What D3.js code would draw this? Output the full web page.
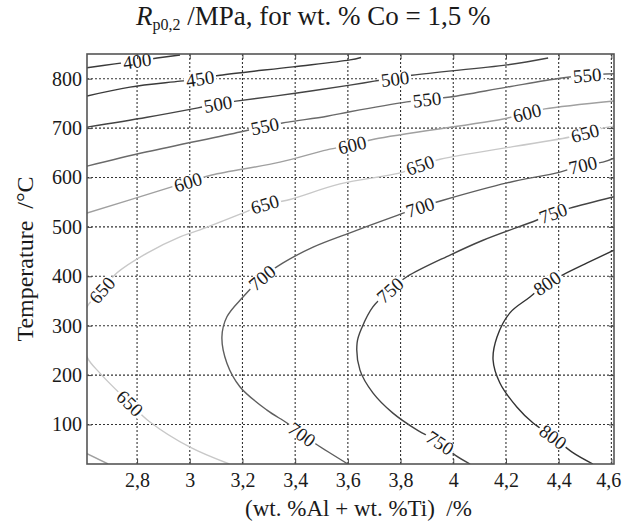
<!DOCTYPE html>
<html>
<head>
<meta charset="utf-8">
<script src="https://cdn.jsdelivr.net/npm/d3@7"></script>
<style>
  body { margin: 0; background: #fff; }
  svg text { font-family: "Liberation Serif", "Times New Roman", serif; fill: #1a1a1a; }
</style>
</head>
<body>
<script>
// contour levels of Rp0,2 (MPa)
var levels = [400, 450, 500, 550, 600, 650, 700, 750, 800];

// contour lines: [wt.% Al+Ti, temperature °C]
var c400 = [[[2.61,822],[2.716,830],[2.80,836],[2.876,842],[2.963,848]]];
var c450 = [[[2.61,765],[2.773,783],[2.963,795],[3.039,800],[3.115,807],[3.392,824],[3.608,838],[3.65,843]]];
var c500 = [[[2.61,702],[2.838,722],[3.031,741],[3.107,749],[3.183,755],[3.407,771],[3.608,787],[3.70,795],[3.843,807],[4.204,828],[4.36,842]]];
var c550 = [[[2.61,623],[2.838,652],[3.191,692],[3.285,704],[3.373,712],[3.521,724],[3.608,733],[3.824,753],[3.90,758],[3.988,763],[4.204,783],[4.405,801],[4.508,807],[4.61,810]]];
var c600 = [
  [[2.61,528],[2.895,575],[2.993,591],[3.084,605],[3.342,631],[3.521,656],[3.616,666],[3.703,678],[4.204,720],[4.28,731],[4.348,739],[4.61,755]],
  [[2.61,41],[2.69,20]]
];
var c650 = [[[4.61,704],[4.568,700],[4.50,690],[4.443,682],[3.950,637],[3.874,625],[3.809,611],[3.570,587],[3.369,554],[3.285,546],[3.202,528],[3.039,494],[2.963,480],[2.838,447],[2.724,407],[2.667,372],[2.61,338],[2.595,290],[2.61,237],[2.659,204],[2.773,143],[2.849,105],[3.001,54],[3.15,20]]];
var c700 = [[[4.61,639],[4.568,631],[4.492,625],[4.405,611],[4.204,589],[3.961,554],[3.874,540],[3.790,524],[3.608,488],[3.468,459],[3.354,427],[3.274,397],[3.202,358],[3.141,318],[3.122,277],[3.141,224],[3.191,176],[3.293,129],[3.369,103],[3.426,80],[3.483,59],[3.60,20]]];
var c750 = [[[4.61,561],[4.443,538],[4.379,528],[4.318,514],[4.113,473],[3.988,443],[3.824,399],[3.760,372],[3.695,338],[3.654,297],[3.635,265],[3.646,210],[3.695,164],[3.771,123],[3.862,89],[3.950,63],[4.007,38],[4.064,20]]];
var c800 = [[[4.61,453],[4.508,427],[4.416,403],[4.356,386],[4.291,358],[4.215,326],[4.166,277],[4.151,231],[4.177,184],[4.242,135],[4.303,103],[4.379,75],[4.451,44],[4.53,20]]];

// where the inline labels sit
var lab400 = [[2.80,836]];
var lab450 = [[3.039,800]];
var lab500 = [[3.107,749],[3.779,800]];
var lab550 = [[3.285,704],[3.90,758],[4.508,807]];
var lab600 = [[2.993,591],[3.616,666],[4.28,731]];
var lab650 = [[2.667,372],[2.773,143],[3.285,546],[3.874,625],[4.50,690]];
var lab700 = [[3.274,397],[3.426,80],[3.874,540],[4.492,625]];
var lab750 = [[3.760,372],[3.950,63],[4.379,528]];
var lab800 = [[4.356,386],[4.379,75]];

var xTicks = [2.8, 3, 3.2, 3.4, 3.6, 3.8, 4, 4.2, 4.4, 4.6];
var yTicks = [100, 200, 300, 400, 500, 600, 700, 800];

var contours = [c400, c450, c500, c550, c600, c650, c700, c750, c800];
var labels = [lab400, lab450, lab500, lab550, lab600, lab650, lab700, lab750, lab800];

var lineColor = {400:"#3a3a3a", 450:"#3a3a3a", 500:"#444", 550:"#6a6a6a", 600:"#a0a0a0",
                 650:"#c8c8c8", 700:"#5e5e5e", 750:"#444", 800:"#333"};

var serif = '"Liberation Serif", "Times New Roman", serif';
var W = 622, H = 522;
var pl = 87, pr = 614, pt = 54, pb = 464;

var x = d3.scaleLinear().domain([2.61, 4.61]).range([pl, pr]);
var y = d3.scaleLinear().domain([20, 850]).range([pb, pt]);

var svg = d3.select("body").append("svg")
    .attr("width", W)
    .attr("height", H);

svg.append("clipPath").attr("id", "plot")
  .append("rect")
    .attr("x", pl).attr("y", pt)
    .attr("width", pr - pl).attr("height", pb - pt);

// grid
var grid = svg.append("g");
grid.selectAll("line.gx")
    .data(xTicks)
    .enter().append("line")
    .attr("x1", d => x(d)).attr("x2", d => x(d))
    .attr("y1", pt).attr("y2", pb)
    .style("stroke", "#333").style("stroke-width", 1.1).style("stroke-dasharray", "2,2");
grid.selectAll("line.gy")
    .data(yTicks)
    .enter().append("line")
    .attr("y1", d => y(d)).attr("y2", d => y(d))
    .attr("x1", pl).attr("x2", pr)
    .style("stroke", "#333").style("stroke-width", 1.1).style("stroke-dasharray", "2,2");

// contour lines
var line = d3.line()
    .x(d => x(d[0]))
    .y(d => y(d[1]))
    .curve(d3.curveCatmullRom.alpha(0.5));

var lines = svg.append("g").attr("clip-path", "url(#plot)");
levels.forEach(function(lv, i) {
  contours[i].forEach(function(seg) {
    lines.append("path")
      .attr("d", line(seg))
      .style("fill", "none")
      .style("stroke", lineColor[lv])
      .style("stroke-width", 1.4);
  });
});

// inline labels, turned along the line
function angleAt(i, p) {
  var best = null, bd = Infinity;
  contours[i].forEach(function(seg) {
    seg.forEach(function(q, k) {
      var dd = Math.pow(x(q[0]) - x(p[0]), 2) + Math.pow(y(q[1]) - y(p[1]), 2);
      if (dd < bd) { bd = dd; best = {seg: seg, k: k}; }
    });
  });
  var s = best.seg, a = s[Math.max(0, best.k - 1)], b = s[Math.min(s.length - 1, best.k + 1)];
  var ang = Math.atan2(y(b[1]) - y(a[1]), x(b[0]) - x(a[0])) * 180 / Math.PI;
  if (ang > 90) ang -= 180;
  if (ang < -90) ang += 180;
  return ang;
}

var labG = svg.append("g");
levels.forEach(function(lv, i) {
  labels[i].forEach(function(p) {
    var g = labG.append("g")
      .attr("transform", "translate(" + x(p[0]) + "," + y(p[1]) + ") rotate(" + angleAt(i, p) + ")");
    var bg = g.append("rect").style("fill", "#fff");
    var t = g.append("text")
      .attr("text-anchor", "middle")
      .attr("dy", "0.35em")
      .style("font-family", serif)
      .style("font-size", "19px")
      .text(lv);
    var bb = t.node().getBBox();
    bg.attr("x", bb.x - 2).attr("y", -6).attr("width", bb.width + 4).attr("height", 12);
  });
});

// axes, ticks pointing inward
var fmt = d => String(d).replace(".", ",");
svg.append("g")
    .attr("transform", "translate(0," + pb + ")")
    .call(d3.axisBottom(x).tickValues(xTicks).tickFormat(fmt).tickSizeInner(-5).tickSizeOuter(0).tickPadding(9))
    .call(g => g.select(".domain").remove())
    .call(g => g.selectAll("text").style("font-size", "20px").style("font-family", serif)
                 .attr("dx", d => d === 4.6 ? -3 : 0))
    .call(g => g.selectAll("line").style("stroke", "#444"));
svg.append("g")
    .attr("transform", "translate(" + pl + ",0)")
    .call(d3.axisLeft(y).tickValues(yTicks).tickSizeInner(-5).tickSizeOuter(0).tickPadding(5))
    .call(g => g.select(".domain").remove())
    .call(g => g.selectAll("text").style("font-size", "20px").style("font-family", serif))
    .call(g => g.selectAll("line").style("stroke", "#444"));
svg.append("g")
    .attr("transform", "translate(0," + pt + ")")
    .call(d3.axisTop(x).tickValues(xTicks).tickFormat("").tickSizeInner(-5).tickSizeOuter(0))
    .call(g => g.select(".domain").remove())
    .call(g => g.selectAll("line").style("stroke", "#444"));
svg.append("g")
    .attr("transform", "translate(" + pr + ",0)")
    .call(d3.axisRight(y).tickValues(yTicks).tickFormat("").tickSizeInner(-5).tickSizeOuter(0))
    .call(g => g.select(".domain").remove())
    .call(g => g.selectAll("line").style("stroke", "#444"));

// frame
svg.append("rect")
    .attr("x", pl).attr("y", pt)
    .attr("width", pr - pl).attr("height", pb - pt)
    .style("fill", "none").style("stroke", "#555").style("stroke-width", 1.6);

// titles
var title = svg.append("text")
    .attr("x", 136).attr("y", 25)
    .style("font-size", "27px");
title.append("tspan").style("font-style", "italic").text("R");
title.append("tspan").attr("dy", 5).style("font-size", "16px").text("p0,2");
title.append("tspan").attr("dy", -5).text("\u00a0/MPa, for wt. % Co = 1,5 %");

svg.append("text")
    .attr("transform", "translate(33," + ((pt + pb) / 2) + ") rotate(-90)")
    .attr("text-anchor", "middle")
    .style("font-size", "24px")
    .text("Temperature\u00a0\u00a0/\u00b0C");

svg.append("text")
    .attr("x", (pl + pr) / 2 + 8).attr("y", 516)
    .attr("text-anchor", "middle")
    .style("font-size", "23px")
    .text("(wt. %Al + wt. %Ti)\u00a0\u00a0/%");
</script>
</body>
</html>
